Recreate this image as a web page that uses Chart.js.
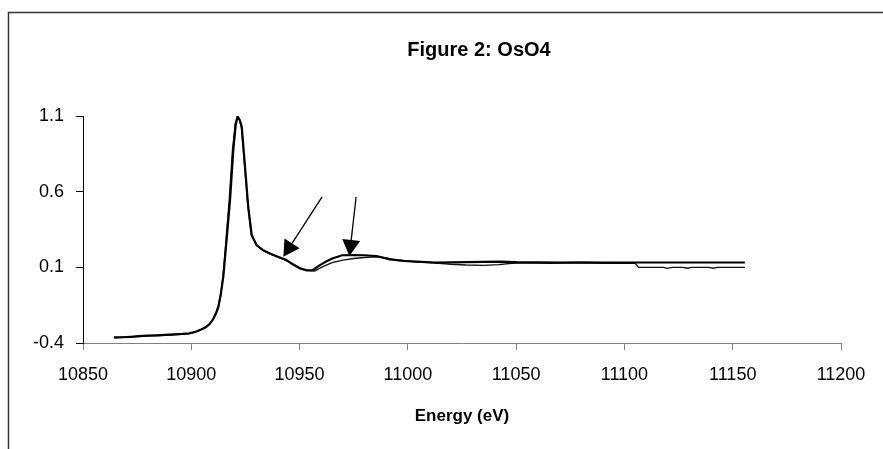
<!DOCTYPE html>
<html>
<head>
<meta charset="utf-8">
<script src="https://cdn.jsdelivr.net/npm/chart.js@4.4.1/dist/chart.umd.min.js"></script>
<style>
  html, body { margin: 0; padding: 0; background: #fff; }
</style>
</head>
<body>
<canvas id="mainChart" width="883" height="449"></canvas>
<script>
const ctx = document.getElementById('mainChart');

// Ticks dos eixos
const xTicks = [10850, 10900, 10950, 11000, 11050, 11100, 11150, 11200];
const yTicks = [-0.4, 0.1, 0.6, 1.1];

// Serie 1 (linha grossa, fica por cima na cauda)
const energy1 = [10864.3, 10868, 10872, 10876, 10880, 10884, 10888, 10892, 10896, 10899,
  10902, 10904.5, 10906.5, 10908.5, 10910.2, 10911.5, 10912.5, 10913.6, 10914.8, 10916.3,
  10917.9, 10919.4, 10920.5, 10921.4, 10922.3, 10923.3, 10924.8, 10926.3, 10927.9, 10930.2,
  10933, 10936.3, 10940, 10943.7, 10947, 10950.2, 10953.3, 10956, 10959.4, 10962.5,
  10965.4, 10968, 10969.6, 10975, 10980, 10985.5, 10991.7, 10998, 11004, 11013,
  11020, 11027, 11035, 11042.5, 11050, 11060, 11070, 11080, 11090, 11100,
  11110, 11120, 11130, 11140, 11155.6];
const values1 = [-0.363, -0.362, -0.359, -0.355, -0.351, -0.349, -0.346, -0.343, -0.340, -0.336,
  -0.326, -0.311, -0.298, -0.275, -0.240, -0.200, -0.160, -0.080, 0.040, 0.281,
  0.545, 0.875, 1.040, 1.096, 1.075, 1.030, 0.765, 0.500, 0.313, 0.245,
  0.215, 0.192, 0.170, 0.150, 0.118, 0.093, 0.080, 0.082, 0.115, 0.140,
  0.160, 0.172, 0.180, 0.181, 0.180, 0.175, 0.153, 0.143, 0.138, 0.131,
  0.133, 0.134, 0.136, 0.138, 0.134, 0.133, 0.132, 0.133, 0.131, 0.132,
  0.132, 0.132, 0.132, 0.132, 0.132];

// Serie 2 (linha fina, fica por baixo na cauda)
const energy2 = [10864.5, 10870, 10875, 10880, 10885, 10890, 10895, 10899, 10902, 10905,
  10908, 10910, 10911.5, 10912.5, 10913.5, 10914.6, 10916, 10917.5, 10919, 10920.3,
  10921.3, 10922.2, 10923.2, 10924.6, 10926.1, 10927.7, 10930, 10933, 10936, 10940,
  10944, 10948, 10951, 10954, 10957, 10960, 10965, 10970, 10975, 10980,
  10985.5, 10990, 10994.8, 11000, 11005, 11010, 11020, 11027, 11035, 11042,
  11048, 11055, 11065, 11075, 11085, 11095, 11105, 11106.5, 11112, 11118,
  11120, 11122, 11127, 11129, 11131, 11139, 11141, 11143, 11155.6];
const values2 = [-0.365, -0.361, -0.357, -0.353, -0.350, -0.347, -0.343, -0.338, -0.328, -0.309,
  -0.280, -0.245, -0.205, -0.165, -0.090, 0.030, 0.270, 0.540, 0.870, 1.050,
  1.098, 1.080, 1.020, 0.780, 0.510, 0.320, 0.248, 0.212, 0.190, 0.168,
  0.145, 0.115, 0.090, 0.078, 0.076, 0.100, 0.131, 0.148, 0.158, 0.165,
  0.170, 0.162, 0.148, 0.140, 0.135, 0.131, 0.120, 0.115, 0.113, 0.118,
  0.127, 0.130, 0.127, 0.128, 0.128, 0.127, 0.126, 0.100, 0.100, 0.100,
  0.093, 0.100, 0.100, 0.094, 0.100, 0.100, 0.094, 0.100, 0.100];

// Setas: inicio e ponta (eV, valor)
const arrowStartE = [10960.4, 10976.1];
const arrowStartV = [0.565, 0.565];
const arrowTipE = [10942.5, 10973.0];
const arrowTipV = [0.170, 0.175];

const font = "'Liberation Sans', Arial, sans-serif";

function toPoints(xs, ys) {
  return xs.map((x, i) => ({ x: x, y: ys[i] }));
}

// fundo, moldura e titulo
const framePlugin = {
  id: 'frame',
  beforeDraw(chart) {
    const c = chart.ctx;
    c.save();
    c.fillStyle = '#fff';
    c.fillRect(0, 0, chart.width, chart.height);
    c.strokeStyle = '#333';
    c.lineWidth = 1.5;
    c.strokeRect(8.5, 12.5, 1000, 600);
    c.restore();
  },
  afterDraw(chart) {
    const c = chart.ctx;
    c.save();
    c.fillStyle = '#000';
    c.font = 'bold 20px ' + font;
    c.textAlign = 'center';
    c.textBaseline = 'middle';
    c.fillText('Figure 2: OsO4', 479, 50);
    c.restore();
  }
};

// setas desenhadas pelas escalas
const arrowPlugin = {
  id: 'arrows',
  afterDatasetsDraw(chart) {
    const c = chart.ctx;
    const x = chart.scales.x, y = chart.scales.y;
    c.save();
    c.strokeStyle = '#000';
    c.fillStyle = '#000';
    c.lineWidth = 1.3;
    for (let i = 0; i < arrowTipE.length; i++) {
      const x0 = x.getPixelForValue(arrowStartE[i]), y0 = y.getPixelForValue(arrowStartV[i]);
      const x1 = x.getPixelForValue(arrowTipE[i]), y1 = y.getPixelForValue(arrowTipV[i]);
      const ang = Math.atan2(y1 - y0, x1 - x0);
      const headLen = 16, headHalf = 9;
      const bx = x1 - headLen * Math.cos(ang), by = y1 - headLen * Math.sin(ang);
      c.beginPath();
      c.moveTo(x0, y0);
      c.lineTo(bx, by);
      c.stroke();
      c.beginPath();
      c.moveTo(x1, y1);
      c.lineTo(bx + headHalf * Math.sin(ang), by - headHalf * Math.cos(ang));
      c.lineTo(bx - headHalf * Math.sin(ang), by + headHalf * Math.cos(ang));
      c.closePath();
      c.fill();
    }
    c.restore();
  }
};

new Chart(ctx, {
  type: 'line',
  data: {
    datasets: [{
      label: 'Series 1',
      data: toPoints(energy1, values1),
      borderColor: '#000',
      borderWidth: 2.2,
      pointRadius: 0,
      tension: 0
    }, {
      label: 'Series 2',
      data: toPoints(energy2, values2),
      borderColor: '#111',
      borderWidth: 1.4,
      pointRadius: 0,
      tension: 0
    }]
  },
  options: {
    responsive: false,
    animation: false,
    devicePixelRatio: 1,
    layout: { padding: { left: 0, right: 42, top: 116, bottom: 0 } },
    plugins: {
      legend: { display: false },
      tooltip: { enabled: false },
      title: { display: false }
    },
    scales: {
      x: {
        type: 'linear',
        min: 10850,
        max: 11200,
        afterBuildTicks: s => { s.ticks = xTicks.map(v => ({ value: v })); },
        afterFit: s => { s.height = 106; },
        grid: { display: true, drawOnChartArea: false, drawTicks: true, tickLength: 7, color: '#808080' },
        border: { display: true, color: '#808080', width: 1 },
        ticks: {
          color: '#000',
          font: { family: font, size: 18 },
          padding: 14,
          maxRotation: 0,
          autoSkip: false,
          callback: v => String(v)
        },
        title: {
          display: true,
          text: 'Energy (eV)',
          color: '#000',
          font: { family: font, size: 17, weight: 'bold' },
          padding: { top: 0, bottom: 22 }
        }
      },
      y: {
        type: 'linear',
        min: -0.4,
        max: 1.1,
        afterBuildTicks: s => { s.ticks = yTicks.map(v => ({ value: v })); },
        afterFit: s => { s.width = 83; },
        grid: { display: true, drawOnChartArea: false, drawTicks: true, tickLength: 7, color: '#000' },
        border: { display: true, color: '#000', width: 1 },
        ticks: {
          color: '#000',
          font: { family: font, size: 18 },
          padding: 12,
          callback: v => Number(v).toFixed(1)
        }
      }
    }
  },
  plugins: [framePlugin, arrowPlugin]
});
</script>
</body>
</html>
